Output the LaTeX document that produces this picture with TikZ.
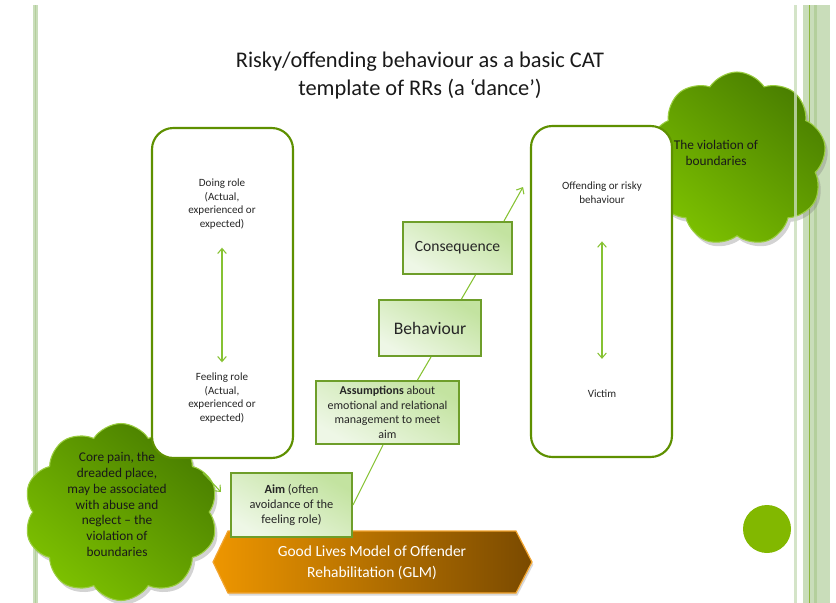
\documentclass[tikz,border=0pt]{standalone}
\usepackage{fontspec}
\setmainfont{Carlito}
\usetikzlibrary{shapes.symbols,shadows,arrows.meta,calc}
\definecolor{boxedge}{HTML}{5E9000}
\definecolor{stepedge}{HTML}{6E9E2A}
\definecolor{stepA}{HTML}{C3E3A0}
\definecolor{stepB}{HTML}{EEF7E6}
\definecolor{arrowc}{HTML}{86C232}
\definecolor{cloudDark}{HTML}{4A7F00}
\definecolor{cloudLight}{HTML}{7CC000}
\definecolor{cloudEdge}{HTML}{9ACD40}
\definecolor{glmA}{HTML}{EE9600}
\definecolor{glmB}{HTML}{D98A00}
\definecolor{glmC}{HTML}{7A4A00}
\definecolor{glmEdge}{HTML}{F2A530}
\definecolor{circc}{HTML}{82B800}
\definecolor{stripe}{HTML}{C9DDBA}
\definecolor{stripeDark}{HTML}{8DB63C}
\definecolor{stripeMid}{HTML}{B4CF9C}
\definecolor{txtc}{HTML}{262626}
\tikzset{
  rolebox/.style={draw=boxedge, line width=1.6pt, rounded corners=16pt, fill=white},
  stepbox/.style={draw=stepedge, line width=1.5pt, top color=stepA, bottom color=stepB,
    shading angle=-30, align=center, text=txtc, inner sep=0pt, drop shadow={opacity=0.2, shadow xshift=1pt, shadow yshift=-1pt}},
  smalltxt/.style={align=center, font=\fontsize{8.3}{10.1}\selectfont, text=txtc, inner sep=0pt},
  cloudtxt/.style={align=center, font=\fontsize{10}{11.9}\selectfont, text=black!90, inner sep=0pt},
  greencloud/.style={cloud, cloud puff arc=115, cloud ignores aspect,
    draw=cloudEdge, line width=0.8pt, top color=cloudDark, bottom color=cloudLight, shading angle=-40,
    drop shadow={opacity=0.35, shadow xshift=2pt, shadow yshift=-3pt}},
  conn/.style={draw=arrowc, line width=0.8pt},
  tip/.style={-{Straight Barb[length=3.8pt,width=6.5pt]}},
  dbl/.style={{Straight Barb[length=3.8pt,width=6.5pt]}-{Straight Barb[length=3.8pt,width=6.5pt]}}
}
\begin{document}
\begin{tikzpicture}[x=0.75pt,y=-0.75pt]
\useasboundingbox (0,0) rectangle (836,603);
% side stripes (under)
\fill[stripe] (33,5) rectangle (38,603);
\fill[stripeMid] (35,5) rectangle (36.2,603);
\fill[stripe] (803,5) rectangle (830,603);
\fill[stripeDark] (808.7,5) rectangle (810,603);
\fill[stripeMid] (814.3,5) rectangle (816.7,603);

% clouds
\node[greencloud, cloud puffs=10, minimum width=194*0.75pt, minimum height=177*0.75pt] (corecloud) at (121,512) {};
\node[greencloud, cloud puffs=9, minimum width=178*0.75pt, minimum height=174*0.75pt] (violcloud) at (737,159) {};
\fill[stripe, opacity=0.8] (794,5) rectangle (797.3,603);

% role boxes
\node[rolebox, minimum width=141*0.75pt, minimum height=330*0.75pt] (lbox) at (222.5,293) {};
\node[rolebox, minimum width=141*0.75pt, minimum height=331*0.75pt] (rbox) at (601.5,291.5) {};

% title
\node[align=center, font=\fontsize{16.8}{21}\selectfont, text=black!90] (title) at (420,76)
  {Risky/offending behaviour as a basic CAT\\template of RRs (a ‘dance’)};

% role texts
\node[smalltxt] (doing) at (222,204) {Doing role\\(Actual,\\experienced or\\expected)};
\node[smalltxt] (feeling) at (222,398) {Feeling role\\(Actual,\\experienced or\\expected)};
\node[smalltxt] (offend) at (602,192.5) {Offending or risky\\behaviour};
\node[smalltxt] (victim) at (602,394) {Victim};
\draw[conn, dbl] ($(doing.south)+(0,18.5)$) -- ($(feeling.north)+(0,-10.5)$);
\draw[conn, dbl] ($(offend.south)+(0,38)$) -- ($(victim.north)+(0,-31)$);

% GLM hexagon
\path[left color=glmA, middle color=glmB, right color=glmC, draw=glmEdge, line width=0.9pt,
  drop shadow={opacity=0.3, shadow xshift=1pt, shadow yshift=-2pt}]
  (213,562) -- (228,531) -- (516,531) -- (532,562) -- (516,593) -- (228,593) -- cycle;
\node[align=center, font=\fontsize{11.6}{15.6}\selectfont, text=white] (glm) at (372,562.5)
  {Good Lives Model of Offender\\Rehabilitation (GLM)};

% step boxes
\node[stepbox, minimum width=109*0.75pt, minimum height=52*0.75pt, font=\fontsize{11.7}{14}\selectfont] (conseq) at (457.5,248) {Consequence};
\node[stepbox, minimum width=102*0.75pt, minimum height=56*0.75pt, font=\fontsize{13.2}{16}\selectfont] (behav) at (430,328) {Behaviour};
\node[stepbox, minimum width=143*0.75pt, minimum height=63*0.75pt, font=\fontsize{9}{10.9}\selectfont] (assump) at (387.5,412.5)
  {\textbf{Assumptions} about\\emotional and relational\\management to meet\\aim};
\node[stepbox, minimum width=121*0.75pt, minimum height=64*0.75pt, font=\fontsize{9.3}{10.9}\selectfont] (aim) at (291.5,505)
  {\textbf{Aim} (often\\avoidance of the\\feeling role)};

% diagonal chain
\coordinate (tipend) at (523,187);
\draw[conn] (aim.east) -- ($(assump.south)+(-4.5,0)$);
\draw[conn] ($(assump.north)+(30,0)$) -- ($(behav.south)+(1,0)$);
\draw[conn] ($(behav.north)+(31.5,0)$) -- ($(conseq.south)+(18,0)$);
\draw[conn, tip] ($(conseq.north)+(46.5,0)$) -- (tipend);

% cloud texts
\node[cloudtxt] (coretxt) at (117,504.5) {Core pain, the\\dreaded place,\\may be associated\\with abuse and\\neglect – the\\violation of\\boundaries};
\node[cloudtxt] (violtxt) at (716,153) {The violation of\\boundaries};

% cloud to aim
\coordinate (cloudout) at (203,473);
\draw[conn, tip] (cloudout) -- ($(aim.west)+(-9,-13)$);

% circle
\node[circle, fill=circc, minimum size=48*0.75pt, inner sep=0pt] (dot) at (767,529) {};
\end{tikzpicture}
\end{document}
